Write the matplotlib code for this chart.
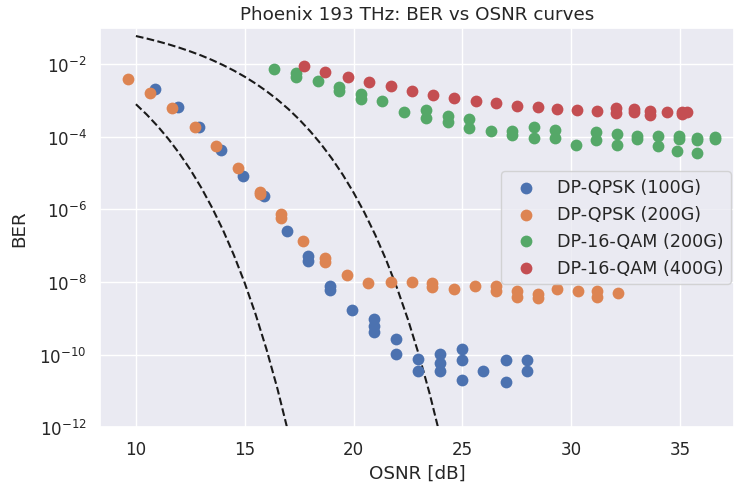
import matplotlib
matplotlib.use("Agg")
import matplotlib.pyplot as plt
import numpy as np
import seaborn as sns

# measured points, OSNR [dB] and log10(BER)
qpsk100_osnr = [10.87, 11.92, 12.91, 13.91, 14.90, 15.90, 16.95, 17.92, 17.92,
                18.93, 18.93, 19.94, 20.94, 20.94, 20.94, 21.93, 21.93,
                22.95, 22.95, 23.97, 23.97, 23.97, 25.00, 25.00, 25.00,
                25.96, 26.99, 26.99, 27.95, 27.95]
qpsk100_logber = [-2.69, -3.19, -3.74, -4.37, -5.09, -5.64, -6.61, -7.28, -7.42,
                  -8.11, -8.22, -8.77, -9.02, -9.21, -9.39, -9.56, -9.97,
                  -10.13, -10.45, -9.97, -10.24, -10.45, -9.85, -10.15, -10.71,
                  -10.45, -10.15, -10.75, -10.15, -10.45]

qpsk200_osnr = [9.65, 10.64, 11.67, 12.70, 13.69, 14.67, 15.68, 15.68, 16.66, 16.66,
                17.69, 18.69, 18.69, 19.68, 20.65, 21.70, 22.67, 23.62, 23.62,
                24.61, 25.58, 26.53, 26.53, 27.50, 27.50, 28.46, 28.46, 29.36,
                30.33, 31.17, 31.17, 32.15]
qpsk200_logber = [-2.41, -2.80, -3.22, -3.72, -4.26, -4.87, -5.51, -5.58, -6.13, -6.25,
                  -6.87, -7.35, -7.46, -7.81, -8.03, -8.01, -8.01, -8.03, -8.15,
                  -8.18, -8.11, -8.12, -8.25, -8.25, -8.40, -8.34, -8.43, -8.18,
                  -8.25, -8.26, -8.40, -8.29]

qam200_osnr = [16.36, 17.34, 17.34, 18.35, 19.34, 19.34, 20.34, 20.34, 21.32, 22.33,
               23.33, 23.33, 24.32, 24.32, 25.30, 25.30, 26.31, 27.29, 27.29,
               28.29, 28.29, 29.26, 29.26, 30.21, 31.13, 31.13, 32.09, 32.09,
               33.04, 33.04, 33.98, 33.98, 34.94, 34.94, 34.85, 35.77, 35.77,
               35.77, 36.61, 36.61]
qam200_logber = [-2.14, -2.26, -2.37, -2.48, -2.64, -2.75, -2.83, -2.96, -3.01, -3.31,
                 -3.27, -3.49, -3.42, -3.59, -3.50, -3.77, -3.84, -3.84, -3.95,
                 -3.74, -4.05, -3.81, -4.05, -4.23, -3.88, -4.09, -3.93, -4.23,
                 -3.99, -4.07, -3.98, -4.25, -3.99, -4.07, -4.39, -4.09, -4.05,
                 -4.45, -4.02, -4.07]

qam400_osnr = [17.73, 18.69, 19.73, 20.71, 21.72, 22.67, 23.65, 24.63, 25.61, 26.56,
               27.52, 28.49, 29.35, 30.28, 31.17, 32.05, 32.05, 32.90, 32.90,
               33.62, 33.62, 34.42, 35.08, 35.08, 35.31]
qam400_logber = [-2.06, -2.22, -2.35, -2.50, -2.61, -2.74, -2.85, -2.94, -3.03, -3.07,
                 -3.15, -3.19, -3.24, -3.26, -3.30, -3.21, -3.35, -3.24, -3.33,
                 -3.29, -3.40, -3.32, -3.31, -3.38, -3.33]

# theory curves, read every 0.5 dB from 10 dB
theory_qpsk_osnr = [10.0, 10.5, 11.0, 11.5, 12.0, 12.5, 13.0, 13.5, 14.0, 14.5,
                    15.0, 15.5, 16.0, 16.5, 17.0, 17.5]
theory_qpsk_ber = [7.83e-4, 4.05e-4, 1.94e-4, 8.55e-5, 3.43e-5, 1.24e-5, 3.97e-6,
                   1.11e-6, 2.7e-7, 5.52e-8, 9.36e-9, 1.29e-9, 1.4e-10, 1.17e-11,
                   7.24e-13, 3.22e-14]
theory_16qam_osnr = [10.0, 10.5, 11.0, 11.5, 12.0, 12.5, 13.0, 13.5, 14.0, 14.5,
                     15.0, 15.5, 16.0, 16.5, 17.0, 17.5, 18.0, 18.5, 19.0, 19.5,
                     20.0, 20.5, 21.0, 21.5, 22.0, 22.5, 23.0, 23.5, 24.0, 24.5]
theory_16qam_ber = [0.059, 0.0503, 0.0422, 0.0348, 0.0281, 0.0222, 0.0172, 0.0129,
                    0.00938, 0.0066, 0.00447, 0.0029, 0.00179, 0.00105, 5.8e-4,
                    2.99e-4, 1.43e-4, 6.3e-5, 2.52e-5, 9.08e-6, 2.9e-6, 8.13e-7,
                    1.96e-7, 4e-8, 6.75e-9, 9.25e-10, 1e-10, 8.29e-12, 5.11e-13,
                    2.25e-14]

sns.set_theme(style="darkgrid", font_scale=1.1)

fig = plt.figure(figsize=(7.34, 4.89), dpi=100)
ax = fig.add_axes([100 / 734, 60.7 / 489, 634 / 734, 399.6 / 489])

series = [
    ("DP-QPSK (100G)", qpsk100_osnr, qpsk100_logber),
    ("DP-QPSK (200G)", qpsk200_osnr, qpsk200_logber),
    ("DP-16-QAM (200G)", qam200_osnr, qam200_logber),
    ("DP-16-QAM (400G)", qam400_osnr, qam400_logber),
]
pal = sns.color_palette("deep")
for i, (name, xs, lys) in enumerate(series):
    ax.scatter(xs, 10.0 ** np.array(lys), s=72, color=pal[i], label=name,
               linewidths=0, zorder=3)

ax.plot(theory_qpsk_osnr, theory_qpsk_ber, "k--", lw=1.5, zorder=2)
ax.plot(theory_16qam_osnr, theory_16qam_ber, "k--", lw=1.5, zorder=2)

ax.set_yscale("log")
ax.set_xlim(8.35, 37.48)
ax.set_ylim(1e-12, 1e-1)
ax.set_yticks([1e-12, 1e-10, 1e-8, 1e-6, 1e-4, 1e-2])
ax.set_xlabel("OSNR [dB]")
ax.set_ylabel("BER", labelpad=8)
ax.set_title("Phoenix 193 THz: BER vs OSNR curves")
ax.legend(loc="center right", fontsize=12.6, borderaxespad=0.2)

fig.savefig("out.png", dpi=100)
